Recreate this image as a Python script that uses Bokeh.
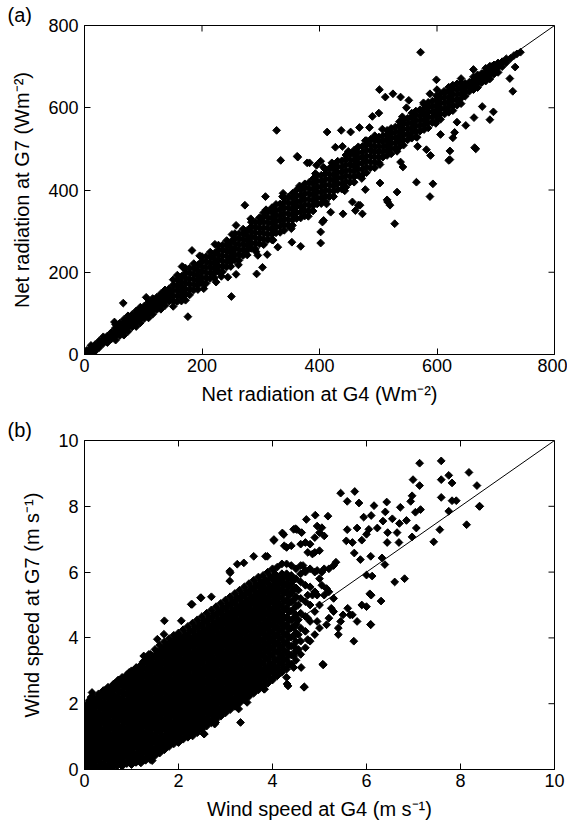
from bokeh.plotting import figure
from bokeh.models import FixedTicker, ColumnDataSource
from bokeh.layouts import column
from bokeh.embed import file_html
from bokeh.resources import INLINE
import math

FONT = "Liberation Sans"

# ---------------- panel (a): net radiation (W m-2) ----------------
rad_ticks = [0, 200, 400, 600, 800]
rad_range = [0, 800]

# dense core: a G4 value and the G7 values read at that G4 value
rad_col_g4 = [4, 11, 18, 25, 32, 39, 46, 53, 60, 67, 74, 81, 88, 95, 102, 109, 116, 123, 130, 137,
              144, 151, 158, 165, 172, 179, 186, 193, 200, 207, 214, 221, 228, 235, 242, 249, 256, 263, 270, 277,
              284, 291, 298, 305, 312, 319, 326, 333, 340, 347, 354, 361, 368, 375, 382, 389, 396, 403, 410, 417,
              424, 431, 438, 445, 452, 459, 466, 473, 480, 487, 494, 501, 508, 515, 522, 529, 536, 543, 550, 557,
              564, 571, 578, 585, 592, 599, 606, 613, 620, 627, 634, 641, 648, 655, 662, 669, 676, 683, 690, 697,
              704, 711, 718, 725]
rad_col_g7 = [
    [0, 5, 10], [6, 15, 22], [8, 16, 24], [17, 25, 33], [27, 36, 43], [29, 37, 45], [38, 46, 54],
    [35, 45, 55, 65, 73], [46, 56, 66, 76], [47, 57, 67, 76, 85], [56, 66, 76, 86, 94], [67, 77, 87, 97],
    [68, 78, 88, 97, 106], [77, 87, 97, 107, 115], [88, 98, 108, 118], [89, 99, 109, 118, 127],
    [98, 108, 118, 128, 136], [109, 119, 129, 139], [110, 120, 130, 139, 148], [119, 129, 139, 149, 157],
    [130, 140, 150, 160], [117, 130, 143, 156, 169, 182], [129, 142, 155, 168, 181, 193],
    [130, 141, 153, 165, 177, 190], [146, 159, 173, 186, 199, 210], [145, 158, 171, 184, 197, 210],
    [157, 170, 183, 196, 209, 221], [158, 169, 181, 193, 205, 218], [174, 187, 201, 214, 227, 238],
    [173, 186, 199, 212, 225, 238], [185, 198, 211, 224, 237, 249], [186, 197, 209, 221, 233, 246],
    [202, 215, 229, 242, 255, 266], [201, 214, 227, 240, 253, 266], [213, 226, 239, 252, 265, 277],
    [214, 225, 237, 249, 261, 274], [230, 243, 257, 270, 283, 294], [229, 242, 255, 268, 281, 294],
    [241, 254, 267, 280, 293, 305], [242, 253, 265, 277, 289, 302], [258, 271, 285, 298, 311, 322],
    [257, 270, 283, 296, 309, 322], [269, 282, 295, 308, 321, 333], [267, 281, 295, 308, 322, 335, 345],
    [279, 293, 307, 321, 334, 348], [279, 292, 305, 318, 331, 345, 357], [296, 310, 324, 337, 351, 365],
    [297, 311, 325, 339, 352, 366], [302, 316, 330, 343, 357, 370, 380], [314, 328, 342, 356, 369, 383],
    [314, 327, 340, 353, 366, 380, 392], [331, 345, 359, 372, 386, 400], [332, 346, 360, 374, 387, 401],
    [337, 351, 365, 378, 392, 405, 415], [349, 363, 377, 391, 404, 418], [349, 362, 375, 388, 401, 415, 427],
    [366, 380, 394, 407, 421, 435], [367, 381, 395, 409, 422, 436], [372, 386, 400, 413, 427, 440, 450],
    [384, 398, 412, 426, 439, 453], [384, 397, 410, 423, 436, 450, 462], [401, 415, 429, 442, 456, 470],
    [402, 416, 430, 444, 457, 471], [407, 421, 435, 448, 462, 475, 485], [419, 433, 447, 461, 474, 488],
    [419, 432, 445, 458, 471, 485, 497], [436, 450, 464, 477, 491, 505], [437, 451, 465, 479, 492, 506],
    [442, 456, 470, 483, 497, 510, 520], [454, 468, 482, 496, 509, 523], [454, 467, 480, 493, 506, 520, 532],
    [467, 480, 493, 506, 518, 529], [480, 493, 506, 519, 532], [484, 497, 509, 522, 535, 545],
    [488, 501, 514, 527, 539, 550], [501, 514, 527, 540, 553], [505, 518, 530, 543, 556, 566],
    [509, 522, 535, 548, 560, 571], [522, 535, 548, 561, 574], [526, 539, 551, 564, 577, 587],
    [530, 543, 556, 569, 581, 592], [543, 556, 569, 582, 595], [547, 560, 572, 585, 598, 608],
    [551, 564, 577, 590, 602, 613], [564, 577, 590, 603, 616], [568, 581, 593, 606, 619, 629],
    [572, 585, 598, 611, 623, 634], [585, 598, 611, 624, 637], [589, 602, 614, 627, 640, 650],
    [593, 606, 619, 632, 644, 655], [606, 619, 632, 645, 658], [610, 623, 635, 648, 661, 671],
    [628, 639, 650, 659], [640, 651, 662], [644, 656, 667, 675], [649, 660, 671, 680], [661, 672, 683],
    [665, 677, 688, 696], [670, 681, 692, 701], [682, 693, 704], [686, 698, 709], [700, 712], [710, 719],
    [720]]

# ragged edges of the core and scattered points away from it
rad_out_g4 = [572, 502, 512, 525, 538, 552, 501, 490, 413, 437, 453, 468, 485, 427, 439, 402, 379, 599, 588, 600,
              662, 694, 731, 736, 742, 724, 729, 733, 696, 690, 663, 649, 634, 677, 664, 622, 622, 627, 606, 567,
              582, 589, 538, 542, 565, 593, 588, 532, 516, 520, 528, 503, 478, 456, 469, 473, 440, 419, 405, 402,
              402, 368, 353, 407, 461, 466, 250, 176, 66, 51, 166, 183, 293, 303, 311, 295, 258, 244, 329, 258,
              273, 224, 105, 327, 334, 362, 308, 338, 363, 383, 515, 666, 620, 697, 630, 574, 612, 548, 395, 407,
              168, 196, 222, 251, 283, 309, 337, 366, 393, 421, 449, 478, 507, 541, 577,
              172, 203, 233, 262, 292, 321, 352, 381, 412, 443, 472, 503, 532, 566, 598]
rad_out_g7 = [735, 644, 626, 634, 626, 618, 587, 579, 541, 545, 541, 552, 552, 504, 506, 470, 466, 668, 634, 644,
              693, 701, 727, 731, 735, 671, 640, 699, 590, 571, 576, 557, 565, 603, 503, 495, 474, 527, 535, 506,
              498, 484, 468, 456, 419, 415, 384, 395, 371, 363, 318, 417, 401, 371, 363, 342, 342, 346, 322, 271,
              298, 263, 273, 326, 350, 363, 141, 92, 125, 79, 214, 253, 196, 212, 243, 241, 195, 188, 261, 314,
              363, 176, 139, 545, 472, 482, 384, 392, 480, 466, 376, 500, 472, 703, 540, 590, 640, 600, 460, 455,
              212, 240, 268, 292, 330, 352, 384, 410, 440, 466, 494, 520, 548, 578, 612,
              132, 160, 190, 218, 250, 278, 306, 336, 366, 398, 428, 462, 494, 528, 562]

# ---------------- panel (b): wind speed (m s-1) ----------------
wind_ticks = [0, 2, 4, 6, 8, 10]
wind_range = [0, 10]

wind_col_g4 = [0.0, 0.1, 0.2, 0.3, 0.4, 0.5, 0.6, 0.7, 0.8, 0.9, 1.0, 1.1, 1.2, 1.3, 1.4, 1.5, 1.6, 1.7, 1.8, 1.9,
               2.0, 2.1, 2.2, 2.3, 2.4, 2.5, 2.6, 2.7, 2.8, 2.9, 3.0, 3.1, 3.2, 3.3, 3.4, 3.5, 3.6, 3.7, 3.8, 3.9,
               4.0, 4.1, 4.2, 4.3, 4.4, 4.5, 4.6, 4.7, 4.8, 4.9, 5.0]
wind_col_g7 = [
    [0.02, 0.2, 0.38, 0.6, 0.8, 0.98, 1.2, 1.42, 1.6, 1.85],
    [0.05, 0.22, 0.45, 0.65, 0.85, 1.05, 1.25, 1.45, 1.7, 1.9, 2.1],
    [0.0, 0.18, 0.4, 0.58, 0.78, 1.0, 1.18, 1.4, 1.62, 1.82, 2.05, 2.2],
    [0.08, 0.3, 0.5, 0.7, 0.92, 1.1, 1.32, 1.5, 1.72, 1.95, 2.15, 2.3],
    [0.02, 0.2, 0.42, 0.62, 0.82, 1.02, 1.22, 1.45, 1.65, 1.85, 2.05, 2.25, 2.4],
    [0.1, 0.3, 0.5, 0.72, 0.92, 1.12, 1.32, 1.52, 1.75, 1.95, 2.15, 2.35, 2.5],
    [0.05, 0.25, 0.45, 0.65, 0.85, 1.05, 1.28, 1.48, 1.68, 1.9, 2.1, 2.3, 2.55],
    [0.12, 0.32, 0.52, 0.75, 0.95, 1.15, 1.35, 1.58, 1.78, 2.0, 2.2, 2.42, 2.65],
    [0.1, 0.28, 0.5, 0.7, 0.9, 1.1, 1.3, 1.52, 1.72, 1.95, 2.15, 2.38, 2.6, 2.8],
    [0.18, 0.4, 0.6, 0.82, 1.02, 1.22, 1.45, 1.65, 1.85, 2.05, 2.28, 2.5, 2.7, 2.88],
    [0.15, 0.35, 0.55, 0.78, 0.98, 1.2, 1.4, 1.6, 1.82, 2.02, 2.25, 2.45, 2.68, 2.9, 3.0],
    [0.22, 0.42, 0.65, 0.85, 1.05, 1.28, 1.48, 1.7, 1.9, 2.12, 2.32, 2.55, 2.75, 2.95, 3.1],
    [0.2, 0.4, 0.62, 0.82, 1.02, 1.25, 1.45, 1.68, 1.88, 2.1, 2.3, 2.52, 2.72, 2.95, 3.18],
    [0.28, 0.5, 0.7, 0.92, 1.12, 1.35, 1.55, 1.78, 1.98, 2.2, 2.42, 2.62, 2.85, 3.05, 3.3],
    [0.3, 0.52, 0.72, 0.95, 1.15, 1.38, 1.58, 1.8, 2.0, 2.22, 2.45, 2.65, 2.88, 3.1, 3.32, 3.5],
    [0.42, 0.62, 0.85, 1.05, 1.28, 1.48, 1.7, 1.92, 2.12, 2.35, 2.55, 2.78, 3.0, 3.22, 3.45, 3.65],
    [0.5, 0.72, 0.92, 1.15, 1.35, 1.58, 1.8, 2.0, 2.22, 2.45, 2.65, 2.88, 3.1, 3.32, 3.55, 3.78],
    [0.6, 0.82, 1.02, 1.25, 1.45, 1.68, 1.9, 2.1, 2.32, 2.55, 2.75, 2.98, 3.2, 3.42, 3.65, 3.88],
    [0.7, 0.9, 1.12, 1.35, 1.55, 1.78, 2.0, 2.2, 2.42, 2.65, 2.85, 3.08, 3.3, 3.52, 3.75, 3.98],
    [0.78, 1.0, 1.22, 1.42, 1.65, 1.88, 2.08, 2.3, 2.52, 2.72, 2.95, 3.18, 3.4, 3.62, 3.85, 4.08],
    [0.82, 1.05, 1.25, 1.48, 1.7, 1.9, 2.12, 2.35, 2.55, 2.78, 3.0, 3.22, 3.45, 3.68, 3.9, 4.15],
    [0.92, 1.15, 1.35, 1.58, 1.8, 2.0, 2.22, 2.45, 2.68, 2.9, 3.1, 3.32, 3.55, 3.78, 4.0, 4.25],
    [0.98, 1.2, 1.42, 1.65, 1.85, 2.08, 2.3, 2.52, 2.75, 2.95, 3.18, 3.4, 3.62, 3.85, 4.08, 4.35],
    [1.02, 1.25, 1.48, 1.7, 1.92, 2.15, 2.38, 2.6, 2.82, 3.05, 3.28, 3.5, 3.72, 3.95, 4.2, 4.45],
    [1.12, 1.35, 1.58, 1.8, 2.02, 2.25, 2.48, 2.7, 2.92, 3.15, 3.38, 3.6, 3.82, 4.05, 4.3, 4.55],
    [1.22, 1.45, 1.68, 1.9, 2.12, 2.35, 2.58, 2.8, 3.02, 3.25, 3.48, 3.7, 3.92, 4.15, 4.4, 4.65],
    [1.32, 1.55, 1.78, 2.0, 2.22, 2.45, 2.68, 2.9, 3.12, 3.35, 3.58, 3.8, 4.02, 4.25, 4.5, 4.75],
    [1.42, 1.65, 1.88, 2.1, 2.32, 2.55, 2.78, 3.0, 3.22, 3.45, 3.68, 3.9, 4.12, 4.35, 4.6, 4.85],
    [1.52, 1.75, 1.98, 2.2, 2.42, 2.65, 2.88, 3.1, 3.32, 3.55, 3.78, 4.0, 4.22, 4.45, 4.7, 4.95],
    [1.62, 1.85, 2.08, 2.3, 2.52, 2.75, 2.98, 3.2, 3.42, 3.65, 3.88, 4.1, 4.32, 4.55, 4.8, 5.05],
    [1.72, 1.95, 2.18, 2.4, 2.62, 2.85, 3.08, 3.3, 3.52, 3.75, 3.98, 4.2, 4.42, 4.65, 4.9, 5.15],
    [1.82, 2.05, 2.28, 2.5, 2.72, 2.95, 3.18, 3.4, 3.62, 3.85, 4.08, 4.3, 4.52, 4.75, 5.0, 5.25],
    [1.92, 2.15, 2.38, 2.6, 2.82, 3.05, 3.28, 3.5, 3.72, 3.95, 4.18, 4.4, 4.62, 4.85, 5.1, 5.35],
    [2.02, 2.25, 2.48, 2.7, 2.92, 3.15, 3.38, 3.6, 3.82, 4.05, 4.28, 4.5, 4.72, 4.95, 5.2, 5.45],
    [2.12, 2.35, 2.58, 2.8, 3.02, 3.25, 3.48, 3.7, 3.92, 4.15, 4.38, 4.6, 4.82, 5.05, 5.3, 5.55],
    [2.22, 2.45, 2.68, 2.9, 3.12, 3.35, 3.58, 3.8, 4.02, 4.25, 4.48, 4.7, 4.92, 5.15, 5.4, 5.65],
    [2.32, 2.55, 2.78, 3.0, 3.22, 3.45, 3.68, 3.9, 4.12, 4.35, 4.58, 4.8, 5.02, 5.25, 5.5, 5.75],
    [2.42, 2.65, 2.88, 3.1, 3.32, 3.55, 3.78, 4.0, 4.22, 4.45, 4.68, 4.9, 5.12, 5.35, 5.6, 5.85],
    [2.52, 2.78, 3.0, 3.25, 3.5, 3.72, 3.95, 4.2, 4.42, 4.65, 4.9, 5.12, 5.35, 5.6, 5.9],
    [2.62, 2.88, 3.1, 3.35, 3.6, 3.82, 4.05, 4.3, 4.52, 4.75, 5.0, 5.22, 5.45, 5.7, 6.0],
    [2.72, 2.98, 3.2, 3.45, 3.7, 3.92, 4.15, 4.4, 4.62, 4.85, 5.1, 5.32, 5.55, 5.8, 6.1],
    [2.85, 3.1, 3.35, 3.6, 3.85, 4.1, 4.35, 4.6, 4.85, 5.1, 5.35, 5.6, 5.85, 6.15],
    [2.95, 3.2, 3.45, 3.7, 3.95, 4.2, 4.45, 4.7, 4.95, 5.2, 5.45, 5.7, 5.95, 6.25],
    [3.05, 3.32, 3.58, 3.85, 4.1, 4.38, 4.62, 4.9, 5.15, 5.42, 5.68, 5.95, 6.25],
    [3.2, 3.48, 3.75, 4.02, 4.3, 4.55, 4.82, 5.1, 5.35, 5.62, 5.9, 6.2],
    [3.32, 3.6, 3.88, 4.15, 4.42, 4.7, 4.98, 5.25, 5.52, 5.8, 6.1],
    [3.5, 3.9, 4.3, 4.75, 5.2, 5.7, 6.2],
    [3.7, 4.2, 4.65, 5.1, 5.6, 6.05],
    [3.9, 4.5, 5.0, 5.55, 6.1],
    [4.1, 4.8, 5.4, 6.0],
    [4.3, 5.0, 5.8]]

# second set of dense-core readings, between the first ones
wind_col2_g4 = [0.05, 0.15, 0.25, 0.35, 0.45, 0.55, 0.65, 0.75, 0.85, 0.95, 1.05, 1.15, 1.25, 1.35, 1.45,
                1.55, 1.65, 1.75, 1.85, 1.95, 2.05, 2.15, 2.25, 2.35, 2.45, 2.55, 2.65, 2.75, 2.85, 2.95,
                3.05, 3.15, 3.25, 3.35, 3.45, 3.55, 3.65, 3.75, 3.85, 3.95, 4.05, 4.15, 4.25, 4.35, 4.45,
                4.55, 4.75, 4.95]
wind_col2_g7 = [
    [0.1, 0.3, 0.5, 0.7, 0.9, 1.1, 1.3, 1.52, 1.75, 1.98],
    [0.12, 0.32, 0.55, 0.75, 0.95, 1.15, 1.35, 1.58, 1.8, 2.0],
    [0.08, 0.28, 0.5, 0.68, 0.88, 1.1, 1.3, 1.5, 1.72, 1.92, 2.12],
    [0.15, 0.38, 0.58, 0.8, 1.0, 1.2, 1.42, 1.62, 1.85, 2.05, 2.25],
    [0.1, 0.32, 0.52, 0.72, 0.92, 1.12, 1.35, 1.55, 1.75, 1.98, 2.2, 2.42],
    [0.18, 0.4, 0.6, 0.82, 1.02, 1.22, 1.42, 1.65, 1.85, 2.05, 2.28, 2.45],
    [0.15, 0.35, 0.55, 0.75, 0.98, 1.18, 1.38, 1.58, 1.8, 2.0, 2.2, 2.45, 2.62],
    [0.22, 0.42, 0.62, 0.85, 1.05, 1.25, 1.48, 1.68, 1.88, 2.1, 2.32, 2.55, 2.72],
    [0.2, 0.4, 0.6, 0.8, 1.0, 1.2, 1.42, 1.62, 1.85, 2.05, 2.28, 2.5, 2.72],
    [0.28, 0.5, 0.7, 0.9, 1.12, 1.32, 1.55, 1.75, 1.95, 2.15, 2.38, 2.6, 2.8, 2.95],
    [0.25, 0.45, 0.68, 0.88, 1.1, 1.3, 1.5, 1.72, 1.92, 2.15, 2.35, 2.58, 2.8, 3.02],
    [0.32, 0.52, 0.75, 0.95, 1.18, 1.38, 1.6, 1.8, 2.02, 2.22, 2.45, 2.65, 2.85, 3.08],
    [0.3, 0.52, 0.72, 0.92, 1.15, 1.35, 1.58, 1.78, 2.0, 2.2, 2.42, 2.62, 2.85, 3.08, 3.28],
    [0.38, 0.6, 0.82, 1.02, 1.25, 1.45, 1.68, 1.88, 2.1, 2.32, 2.52, 2.75, 2.95, 3.2, 3.4],
    [0.4, 0.62, 0.85, 1.05, 1.28, 1.5, 1.7, 1.92, 2.12, 2.35, 2.55, 2.78, 3.0, 3.22, 3.45],
    [0.52, 0.75, 0.95, 1.18, 1.38, 1.6, 1.82, 2.02, 2.25, 2.45, 2.68, 2.9, 3.12, 3.35, 3.58],
    [0.6, 0.82, 1.02, 1.25, 1.48, 1.7, 1.9, 2.12, 2.35, 2.55, 2.78, 3.0, 3.22, 3.45, 3.68],
    [0.7, 0.92, 1.15, 1.35, 1.58, 1.8, 2.0, 2.22, 2.45, 2.65, 2.88, 3.1, 3.32, 3.55, 3.78],
    [0.8, 1.02, 1.22, 1.45, 1.68, 1.9, 2.1, 2.32, 2.55, 2.75, 2.98, 3.2, 3.42, 3.65, 3.88],
    [0.88, 1.1, 1.32, 1.55, 1.78, 1.98, 2.2, 2.42, 2.62, 2.85, 3.08, 3.3, 3.52, 3.75, 3.98],
    [0.95, 1.15, 1.38, 1.6, 1.82, 2.02, 2.25, 2.45, 2.68, 2.9, 3.12, 3.35, 3.58, 3.8, 4.02],
    [1.05, 1.25, 1.48, 1.7, 1.9, 2.12, 2.35, 2.58, 2.8, 3.0, 3.22, 3.45, 3.68, 3.9, 4.12],
    [1.1, 1.32, 1.55, 1.75, 1.98, 2.2, 2.42, 2.65, 2.85, 3.08, 3.3, 3.52, 3.75, 3.98, 4.22],
    [1.15, 1.38, 1.6, 1.82, 2.05, 2.28, 2.5, 2.72, 2.95, 3.18, 3.4, 3.62, 3.85, 4.08, 4.32],
    [1.25, 1.48, 1.7, 1.92, 2.15, 2.38, 2.6, 2.82, 3.05, 3.28, 3.5, 3.72, 3.95, 4.18, 4.42],
    [1.35, 1.58, 1.8, 2.02, 2.25, 2.48, 2.7, 2.92, 3.15, 3.38, 3.6, 3.82, 4.05, 4.28, 4.52],
    [1.45, 1.68, 1.9, 2.12, 2.35, 2.58, 2.8, 3.02, 3.25, 3.48, 3.7, 3.92, 4.15, 4.38, 4.62],
    [1.55, 1.78, 2.0, 2.22, 2.45, 2.68, 2.9, 3.12, 3.35, 3.58, 3.8, 4.02, 4.25, 4.48, 4.72],
    [1.65, 1.88, 2.1, 2.32, 2.55, 2.78, 3.0, 3.22, 3.45, 3.68, 3.9, 4.12, 4.35, 4.58, 4.82],
    [1.75, 1.98, 2.2, 2.42, 2.65, 2.88, 3.1, 3.32, 3.55, 3.78, 4.0, 4.22, 4.45, 4.68, 4.92],
    [1.85, 2.08, 2.3, 2.52, 2.75, 2.98, 3.2, 3.42, 3.65, 3.88, 4.1, 4.32, 4.55, 4.78, 5.02],
    [1.95, 2.18, 2.4, 2.62, 2.85, 3.08, 3.3, 3.52, 3.75, 3.98, 4.2, 4.42, 4.65, 4.88, 5.12],
    [2.05, 2.28, 2.5, 2.72, 2.95, 3.18, 3.4, 3.62, 3.85, 4.08, 4.3, 4.52, 4.75, 4.98, 5.22],
    [2.15, 2.38, 2.6, 2.82, 3.05, 3.28, 3.5, 3.72, 3.95, 4.18, 4.4, 4.62, 4.85, 5.08, 5.32],
    [2.25, 2.48, 2.7, 2.92, 3.15, 3.38, 3.6, 3.82, 4.05, 4.28, 4.5, 4.72, 4.95, 5.18, 5.42],
    [2.35, 2.58, 2.8, 3.02, 3.25, 3.48, 3.7, 3.92, 4.15, 4.38, 4.6, 4.82, 5.05, 5.28, 5.52],
    [2.45, 2.68, 2.9, 3.12, 3.35, 3.58, 3.8, 4.02, 4.25, 4.48, 4.7, 4.92, 5.15, 5.38, 5.62],
    [2.55, 2.78, 3.0, 3.22, 3.45, 3.68, 3.9, 4.12, 4.35, 4.58, 4.8, 5.02, 5.25, 5.48, 5.72],
    [2.65, 2.9, 3.12, 3.38, 3.6, 3.85, 4.08, 4.3, 4.55, 4.78, 5.0, 5.25, 5.48, 5.75],
    [2.75, 3.0, 3.22, 3.48, 3.7, 3.95, 4.18, 4.4, 4.65, 4.88, 5.1, 5.35, 5.58, 5.85],
    [2.85, 3.1, 3.32, 3.58, 3.8, 4.05, 4.28, 4.5, 4.75, 4.98, 5.2, 5.45, 5.68, 5.95],
    [3.0, 3.25, 3.5, 3.75, 4.0, 4.25, 4.5, 4.75, 5.0, 5.25, 5.5, 5.75],
    [3.1, 3.35, 3.6, 3.85, 4.1, 4.35, 4.6, 4.85, 5.1, 5.35, 5.6, 5.85],
    [3.2, 3.48, 3.75, 4.0, 4.25, 4.52, 4.78, 5.05, 5.3, 5.55, 5.82],
    [3.45, 3.75, 4.05, 4.32, 4.6, 4.88, 5.15, 5.45, 5.75],
    [3.65, 4.1, 4.55, 5.0, 5.45],
    [3.95, 4.6, 5.3],
    [4.5, 5.3]]

wind_out_g4 = [2.54, 3.32, 2.79, 2.95, 3.28, 3.46, 3.25, 3.82, 4.1, 4.31, 4.3, 4.45, 1.97, 1.44, 1.09, 1.33, 0.2,
               0.16, 0.27, 0.62, 0.72, 0.98, 1.26, 1.37, 1.55, 1.69, 1.70, 2.06, 2.27, 2.48, 3.09, 3.09, 3.1, 3.25,
               3.6, 3.89, 4.03, 4.24, 4.49, 2.29, 2.47, 2.7, 0.71, 0.14, 2.55, 2.77, 3.83, 4.33, 4.68, 5.07, 4.61,
               4.67, 5.08, 5.73, 6.09,
               7.13, 7.59, 8.18, 7.75, 7.82, 7.59, 6.99, 7.13, 8.35, 6.97, 6.94, 7.59, 7.82, 7.91, 8.41, 7.75, 7.15,
               7.04, 8.13, 7.56, 7.43, 7.06, 6.97, 6.72, 6.43, 6.16, 5.84, 5.59, 5.45, 5.75, 4.91, 4.72, 5.18, 5.94,
               6.1, 6.4, 6.35, 6.55, 6.7, 6.85, 6.45, 6.65, 6.44, 6.69, 6.23, 6.05, 6.0, 5.8, 5.59, 5.57, 5.7, 5.9,
               6.09, 6.33, 6.39, 5.87, 5.74, 6.0, 6.12, 6.6, 6.81, 6.07, 6.31, 5.9, 6.0, 6.09, 5.8, 5.7, 5.6, 5.5,
               5.45, 5.4, 5.4, 4.52, 4.62, 4.45, 4.21, 4.03, 3.85, 3.39, 4.3, 4.4, 4.25, 4.6, 4.7, 4.8, 4.9, 5.0,
               5.05, 5.1, 4.95, 4.9, 4.85, 5.0, 4.75, 4.65, 4.6, 4.7, 4.95, 5.05, 5.1, 5.2, 5.3, 5.35, 5.15, 5.1,
               5.05, 5.2, 4.9, 4.85, 5.25, 5.3, 5.2, 5.15, 5.3, 6.1, 5.65, 8.4]
wind_out_g7 = [1.08, 1.43, 1.43, 1.81, 1.84, 2.04, 2.34, 2.44, 2.85, 2.6, 2.8, 3.1, 0.93, 0.27, 0.22, 0.52, 0.02,
               2.34, 2.14, 2.6, 2.72, 2.9, 3.45, 3.5, 3.96, 4.11, 4.52, 4.52, 5.02, 5.22, 6.03, 5.73, 5.98, 6.24,
               6.48, 6.48, 6.99, 7.14, 7.32, 5.02, 5.22, 5.25, 2.7, 2.2, 1.08, 1.38, 2.44, 2.54, 2.51, 3.2, 3.1,
               2.5, 3.18, 3.9, 4.4,
               9.31, 9.38, 9.03, 8.94, 8.71, 8.81, 8.81, 8.63, 8.63, 8.32, 8.15, 8.27, 8.17, 8.17, 8.0, 7.85, 7.9,
               7.82, 7.44, 7.29, 6.92, 7.34, 7.07, 7.97, 8.13, 8.02, 8.1, 8.15, 8.4, 8.45, 7.73, 7.6, 7.7, 7.67,
               7.72, 7.83, 7.55, 7.62, 7.48, 7.57, 7.2, 7.2, 6.9, 6.9, 7.34, 7.3, 7.15, 7.34, 7.29, 6.95, 6.9, 6.97,
               6.48, 6.43, 6.23, 6.38, 6.58, 5.91, 5.88, 5.7, 5.8, 5.34, 5.12, 5.0, 4.95, 4.41, 4.5, 4.7, 4.9, 4.7,
               4.5, 4.3, 4.1, 7.29, 7.2, 7.3, 7.19, 6.96, 6.48, 6.28, 6.75, 6.8, 6.8, 6.85, 6.9, 6.85, 7.05, 7.2,
               7.35, 7.1, 7.4, 6.6, 6.55, 6.65, 6.6, 6.2, 5.95, 6.0, 6.05, 6.0, 6.1, 6.1, 6.2, 6.3, 5.5, 5.3,
               5.6, 5.4, 5.4, 5.3, 4.9, 5.2, 4.6, 4.4, 4.8, 5.3, 4.7, 8.0]


def expand(groups, out_x, out_y):
    xs, ys = [], []
    for col_x, col_y in groups:
        for cx, cys in zip(col_x, col_y):
            for cy in cys:
                xs.append(cx)
                ys.append(cy)
    for ox, oy in zip(out_x, out_y):
        xs.append(ox)
        ys.append(oy)
    return xs, ys


def make_panel(xs, ys, rng, ticks, xlabel, ylabel, tag, top, frame_w, frame_h, height):
    p = figure(width=567, height=height, x_range=(rng[0], rng[1]), y_range=(rng[0], rng[1]),
               output_backend="svg", toolbar_location=None,
               min_border_left=84, min_border_right=567 - 84 - frame_w, min_border_top=top,
               min_border_bottom=height - top - frame_h,
               background_fill_color="white", border_fill_color="white")
    p.grid.visible = False
    p.outline_line_color = "black"
    p.outline_line_width = 1
    for ax in (p.xaxis[0], p.yaxis[0]):
        ax.ticker = FixedTicker(ticks=ticks)
        ax.major_tick_in = 6
        ax.major_tick_out = 0
        ax.minor_tick_line_color = None
        ax.axis_line_color = "black"
        ax.major_tick_line_color = "black"
        ax.major_label_text_font = FONT
        ax.major_label_text_font_size = "18px"
        ax.major_label_text_color = "black"
        ax.axis_label_text_font = FONT
        ax.axis_label_text_font_size = "20px"
        ax.axis_label_text_font_style = "normal"
        ax.axis_label_text_color = "black"
    p.xaxis[0].axis_label = xlabel
    p.yaxis[0].axis_label = ylabel
    p.xaxis[0].major_label_standoff = 4
    p.xaxis[0].axis_label_standoff = 8
    p.yaxis[0].major_label_standoff = 6
    p.yaxis[0].axis_label_standoff = 12

    # mirrored inward ticks on the top and right sides of the box
    span = rng[1] - rng[0]
    tlx = 6.0 * span / frame_w
    tly = 6.0 * span / frame_h
    p.segment(x0=ticks, y0=[rng[1]] * len(ticks), x1=ticks, y1=[rng[1] - tly] * len(ticks),
              line_color="black", line_width=1)
    p.segment(x0=[rng[1]] * len(ticks), y0=ticks, x1=[rng[1] - tlx] * len(ticks), y1=ticks,
              line_color="black", line_width=1)

    # 1:1 line
    p.line(x=rng, y=rng, line_color="black", line_width=1)
    src = ColumnDataSource(data=dict(x=xs, y=ys))
    p.scatter(x="x", y="y", source=src, marker="square", size=5.5, angle=math.pi / 4,
              fill_color="black", line_color="black", line_width=1)

    p.title.text = tag
    p.title.align = "left"
    p.title.offset = -77
    p.title.standoff = 0
    p.title.text_font = FONT
    p.title.text_font_size = "20px"
    p.title.text_font_style = "normal"
    p.title.text_color = "black"
    return p


rx, ry = expand([(rad_col_g4, rad_col_g7)], rad_out_g4, rad_out_g7)
wx, wy = expand([(wind_col_g4, wind_col_g7), (wind_col2_g4, wind_col2_g7)], wind_out_g4, wind_out_g7)

p1 = make_panel(rx, ry, rad_range, rad_ticks, "Net radiation at G4 (Wm\u207b\u00b2)",
                "Net radiation at G7 (Wm\u207b\u00b2)", "(a)", 25, 470, 329, 416)
p2 = make_panel(wx, wy, wind_range, wind_ticks, "Wind speed at G4 (m s\u207b\u00b9)",
                "Wind speed at G7 (m s\u207b\u00b9)", "(b)", 23, 470, 330, 416)

layout = column(p1, p2, spacing=0)
open("out.html", "w").write(file_html(layout, INLINE))
